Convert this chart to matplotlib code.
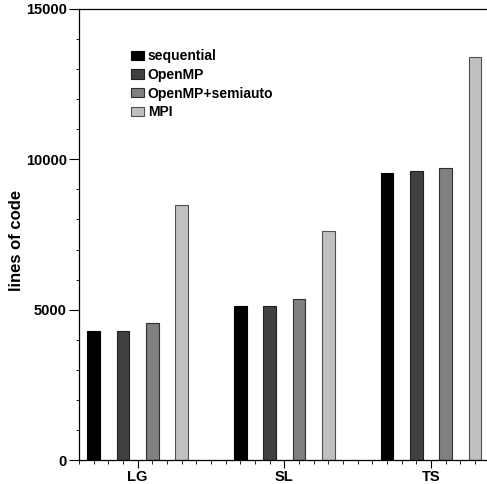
import matplotlib
matplotlib.use("Agg")
import matplotlib.pyplot as plt
import numpy as np
from matplotlib.ticker import MultipleLocator

plt.rcParams['font.family'] = ['Liberation Sans', 'DejaVu Sans']
plt.rcParams['font.weight'] = 'bold'

groups = ["LG", "SL", "TS"]
series = ["sequential", "OpenMP", "OpenMP+semiauto", "MPI"]
sequential = [4290, 5110, 9555]
openmp = [4300, 5110, 9600]
semiauto = [4560, 5345, 9700]
mpi = [8470, 7627, 13393]
colors = ["#000000", "#404040", "#808080", "#c0c0c0"]
edges = ["#000000", "#202020", "#303030", "#505050"]

fig = plt.figure(figsize=(4.87, 4.84), dpi=100)
ax = fig.add_axes([79/487, 1 - 460/484, (487 - 79)/487, (460 - 9)/484])

x = np.arange(len(groups))
offsets = [-0.3, -0.1, 0.1, 0.3]
for vals, off, c, e, name in zip([sequential, openmp, semiauto, mpi], offsets, colors, edges, series):
    ax.bar(x + off, vals, width=0.087, color=c, edgecolor=e, linewidth=0.8, label=name)

ax.set_xlim(-0.4, 2.381)
ax.set_ylim(0, 15000)
ax.set_xticks(x)
ax.set_xticklabels(groups, fontsize=10.5, fontweight='bold')
ax.xaxis.set_minor_locator(MultipleLocator(0.1))
ax.yaxis.set_major_locator(MultipleLocator(5000))
ax.yaxis.set_minor_locator(MultipleLocator(1000))
ax.tick_params(axis='y', which='major', direction='out', length=7.5, width=0.8, labelsize=10.5, pad=1.2)
ax.tick_params(axis='y', which='minor', direction='out', length=2.5, width=0.6)
ax.tick_params(axis='x', which='major', direction='out', length=6, width=0.8, labelsize=10.5, pad=1.2)
ax.tick_params(axis='x', which='minor', direction='out', length=3, width=0.6)
for lab in ax.get_yticklabels():
    lab.set_fontweight('bold')
ax.spines['right'].set_visible(False)
for s in ['left', 'bottom', 'top']:
    ax.spines[s].set_linewidth(0.9)
ax.set_ylabel("lines of code", fontsize=12, fontweight='bold')
ax.yaxis.set_label_coords(-0.135, 0.486)

leg = ax.legend(loc='upper left', bbox_to_anchor=(0.114, 0.923), frameon=False,
                fontsize=10, handlelength=0.9, handleheight=0.65, labelspacing=0.34,
                handletextpad=0.3, borderaxespad=0)
for t in leg.get_texts():
    t.set_fontweight('bold')

fig.savefig("out.png", dpi=100)
